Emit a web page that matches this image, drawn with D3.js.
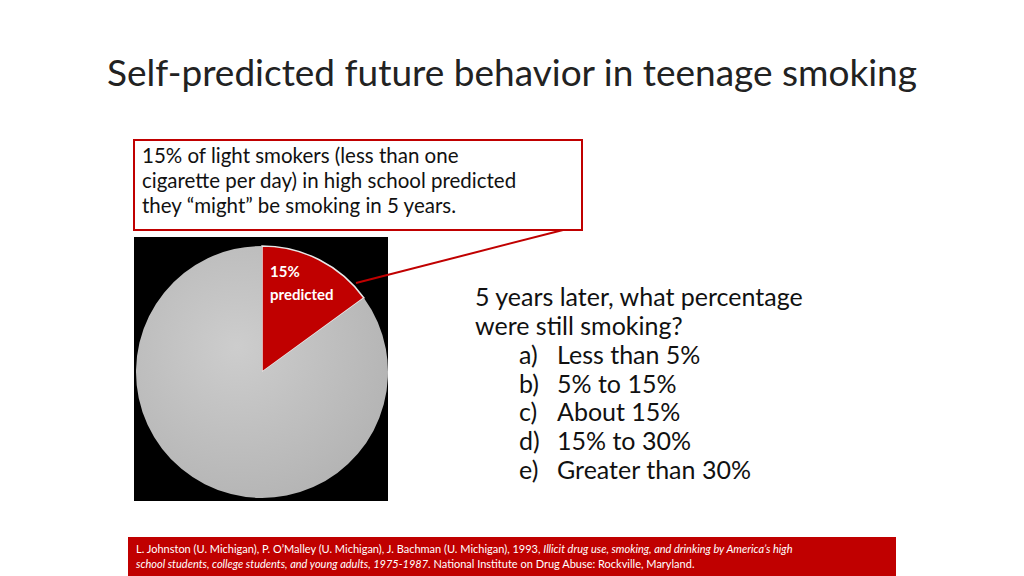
<!DOCTYPE html>
<html><head><meta charset="utf-8">
<script src="https://cdn.jsdelivr.net/npm/d3@7"></script>
<style>body{margin:0;background:#fff;}svg{display:block;font-family:Lato,"Open Sans",sans-serif;}</style>
</head><body><svg id="c" width="1024" height="576"></svg>
<script>
const categories = ["predicted", "other"];
const values = [15, 85];
const colors = ["#c00000", "#c4c4c4"];
const sliceLabel = ["15%", "predicted"];
const question = ["5 years later, what percentage", "were still smoking?"];
const optionLetters = ["a)", "b)", "c)", "d)", "e)"];
const options = ["Less than 5%", "5% to 15%", "About 15%", "15% to 30%", "Greater than 30%"];
const calloutLines = ["15% of light smokers (less than one", "cigarette per day) in high school predicted", "they \u201cmight\u201d be smoking in 5 years."];

const svg = d3.select("#c");
svg.append("text").attr("x", 512).attr("y", 86).attr("text-anchor", "middle")
  .attr("font-size", 37).attr("fill", "#222").text("Self-predicted future behavior in teenage smoking");

svg.append("rect").attr("x", 134).attr("y", 237).attr("width", 254).attr("height", 264).attr("fill", "#000");
const cx = 262, cy = 372, r = 126;
const defs = svg.append("defs");
const g1 = defs.append("radialGradient").attr("id", "gg").attr("cx", "40%").attr("cy", "40%").attr("r", "65%");
g1.append("stop").attr("offset", "0%").attr("stop-color", "#cdcdcd");
g1.append("stop").attr("offset", "100%").attr("stop-color", "#b4b4b4");
const pie = d3.pie().sort(null)(values);
const arc = d3.arc().innerRadius(0).outerRadius(r);
const pg = svg.append("g").attr("transform", `translate(${cx},${cy})`);
pg.selectAll("path").data(pie).join("path").attr("d", arc)
  .attr("fill", (d, i) => i === 0 ? colors[0] : "url(#gg)")
  .attr("stroke", (d, i) => i === 0 ? "#e8e8e8" : "none").attr("stroke-width", 1.5);
sliceLabel.forEach((t, i) => svg.append("text").attr("x", 270).attr("y", 277 + i * 23)
  .attr("font-size", 15).attr("font-weight", "bold").attr("fill", "#fff").text(t));

svg.append("line").attr("x1", 356).attr("y1", 283).attr("x2", 563).attr("y2", 230).attr("stroke", "#c00000").attr("stroke-width", 2);
svg.append("rect").attr("x", 134).attr("y", 140).attr("width", 448).attr("height", 90).attr("fill", "#fff").attr("stroke", "#c00000").attr("stroke-width", 2);
calloutLines.forEach((t, i) => svg.append("text").attr("x", 142).attr("y", 163 + i * 25)
  .attr("font-size", 20.5).attr("fill", "#111").text(t));

question.forEach((t, i) => svg.append("text").attr("x", 475).attr("y", 306 + i * 28.7)
  .attr("font-size", 25).attr("fill", "#111").text(t));
options.forEach((t, i) => {
  svg.append("text").attr("x", 519).attr("y", 364 + i * 28.7).attr("font-size", 25).attr("fill", "#111").text(optionLetters[i]);
  svg.append("text").attr("x", 557).attr("y", 364 + i * 28.7).attr("font-size", 25).attr("fill", "#111").text(t);
});

svg.append("rect").attr("x", 128).attr("y", 537).attr("width", 768).attr("height", 39).attr("fill", "#c00000");
const f1 = svg.append("text").attr("x", 136).attr("y", 553).attr("font-size", 11).attr("fill", "#fff");
f1.append("tspan").text("L. Johnston (U. Michigan), P. O\u2019Malley (U. Michigan), J. Bachman (U. Michigan), 1993, ");
f1.append("tspan").attr("font-style", "italic").text("Illicit drug use, smoking, and drinking by America\u2019s  high");
const f2 = svg.append("text").attr("x", 136).attr("y", 568).attr("font-size", 11).attr("fill", "#fff");
f2.append("tspan").attr("font-style", "italic").text("school students, college students, and young adults, 1975-1987.");
f2.append("tspan").text(" National Institute on Drug Abuse: Rockville, Maryland.");
</script></body></html>
